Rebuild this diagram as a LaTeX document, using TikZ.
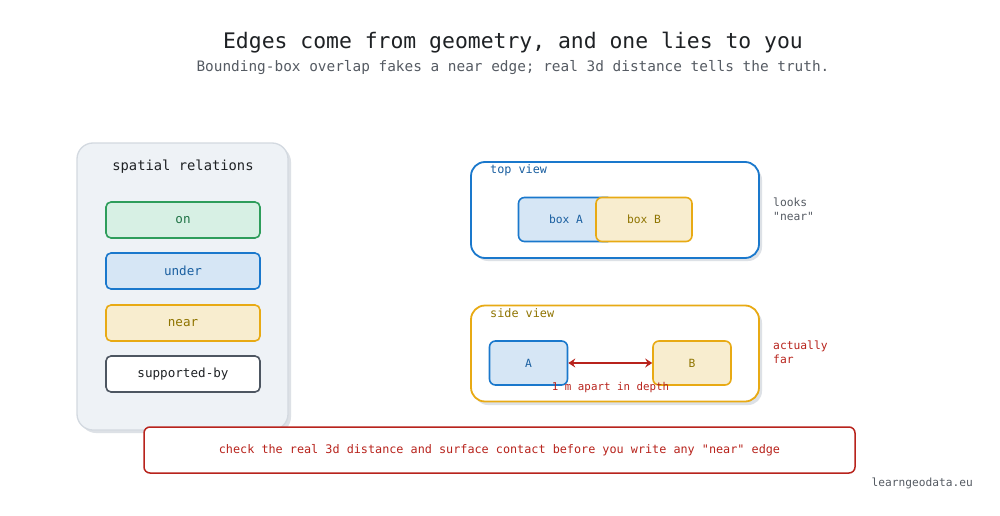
\documentclass[tikz,border=0pt]{standalone}
\usepackage{fontspec}
\setmainfont{DejaVu Sans Mono}
\setmonofont{DejaVu Sans Mono}
\renewcommand\familydefault{\ttdefault}
\usetikzlibrary{arrows.meta}
\definecolor{bluebd}{HTML}{1A78CC}
\definecolor{bluefl}{HTML}{D6E6F5}
\definecolor{bluetx}{HTML}{1A5FA0}
\definecolor{orbd}{HTML}{E8AA14}
\definecolor{orfl}{HTML}{F8EDCF}
\definecolor{ortx}{HTML}{8F7400}
\definecolor{grbd}{HTML}{2E9D5B}
\definecolor{grfl}{HTML}{D7F0E4}
\definecolor{grtx}{HTML}{1F7346}
\definecolor{gybd}{HTML}{4D5661}
\definecolor{redc}{HTML}{B8231C}
\definecolor{panelfl}{HTML}{EEF2F6}
\definecolor{panelbd}{HTML}{D3D9E0}
\definecolor{shadowc}{HTML}{DDE1E6}
\definecolor{titlec}{HTML}{1E2124}
\definecolor{subc}{HTML}{555B63}
\definecolor{notec}{HTML}{555B63}
\tikzset{
  box/.style={rectangle, rounded corners=5pt, line width=1.6pt, inner sep=0pt, align=center},
  relbox/.style={box, minimum width=154pt, minimum height=36pt, font=\ttfamily\fontsize{12.6}{15}\selectfont},
  viewbox/.style={rectangle, rounded corners=14pt, line width=1.8pt, fill=white, minimum width=288pt, minimum height=96pt, inner sep=0pt},
  smallbox/.style={box, rounded corners=6pt, minimum height=44pt, font=\ttfamily\fontsize{11.3}{14}\selectfont},
  note/.style={anchor=north west, align=left, inner sep=0pt, font=\ttfamily\fontsize{11.3}{13.5}\selectfont},
  redtip/.tip={Stealth[length=7pt,width=9pt,inset=2.5pt]},
}
\begin{document}
\begin{tikzpicture}[x=1pt,y=-1pt]
\useasboundingbox (0,0) rectangle (1000,516);
\fill[white] (0,0) rectangle (1000,516);

% titles
\node[text=titlec, font=\ttfamily\fontsize{21.4}{25}\selectfont] (title) at (513,42.5) {Edges come from geometry, and one lies to you};
\node[text=subc, font=\ttfamily\fontsize{14.4}{17}\selectfont] (sub) at (513,68) {Bounding-box overlap fakes a near edge; real 3d distance tells the truth.};

% left panel
\fill[shadowc, rounded corners=16pt] (80,146) rectangle (291,433);
\node[rectangle, rounded corners=16pt, fill=panelfl, draw=panelbd, line width=1.3pt, minimum width=211pt, minimum height=287pt] (panel) at (182.5,286.5) {};
\node[text=titlec, font=\ttfamily\fontsize{13.8}{16}\selectfont] (ptitle) at (183,167) {spatial relations};
\node[relbox, fill=grfl, draw=grbd, text=grtx] (on) at (183,220) {on};
\node[relbox, fill=bluefl, draw=bluebd, text=bluetx] (under) at (183,271) {under};
\node[relbox, fill=orfl, draw=orbd, text=ortx] (near) at (183,323) {near};
\node[relbox, fill=white, draw=gybd, text=titlec] (supp) at (183,374) {supported-by};

% top view
\fill[shadowc, rounded corners=14pt] (474,166) rectangle (762,261);
\node[viewbox, draw=bluebd] (top) at (615,210) {};
\node[anchor=west, inner sep=0pt, text=bluetx, font=\ttfamily\fontsize{11.8}{14}\selectfont] (toplbl) at (490,170) {top view};
\node[smallbox, fill=bluefl, draw=bluebd, text=bluetx, minimum width=95pt] (boxA) at (566,219.5) {box A};
\node[smallbox, fill=orfl, draw=orbd, text=ortx, minimum width=96pt] (boxB) at (644,219.5) {box B};
\node[note, text=notec] (looks) at (773,198) {looks\\"near"};

% side view
\fill[shadowc, rounded corners=14pt] (474,309) rectangle (762,405);
\node[viewbox, draw=orbd] (side) at (615,353.5) {};
\node[anchor=west, inner sep=0pt, text=ortx, font=\ttfamily\fontsize{11.8}{14}\selectfont] (sidelbl) at (490,313) {side view};
\node[smallbox, fill=bluefl, draw=bluebd, text=bluetx, minimum width=78pt] (A) at (528.5,363) {A};
\node[smallbox, fill=orfl, draw=orbd, text=ortx, minimum width=78pt] (B) at (692,363) {B};
\draw[redc, line width=1.8pt, redtip-redtip] (A.east) -- (B.west);
\node[text=redc, inner sep=0pt, font=\ttfamily\fontsize{10.8}{13}\selectfont] (apart) at (610.5,387.5) {1 m apart in depth};
\node[note, text=redc] (far) at (773,341) {actually\\far};

% bottom warning
\node[rectangle, rounded corners=6pt, draw=redc, line width=1.5pt, fill=white, minimum width=711pt, minimum height=46pt, text=redc, font=\ttfamily\fontsize{11.8}{14}\selectfont] (warn) at (499.5,450) {check the real 3d distance and surface contact before you write any "near" edge};

\node[anchor=east, inner sep=0pt, text=notec, font=\ttfamily\fontsize{11.2}{13}\selectfont] (credit) at (973,483) {learngeodata.eu};
\end{tikzpicture}
\end{document}
